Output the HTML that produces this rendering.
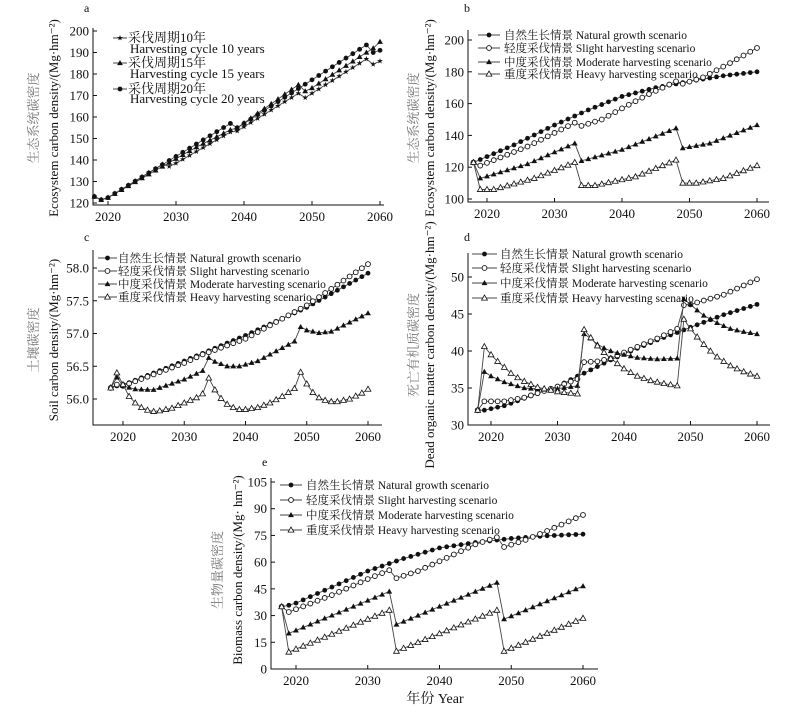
<!DOCTYPE html>
<html><head><meta charset="utf-8"><style>
body{margin:0;background:#fff;}
svg text{font-family:"Liberation Serif","Noto Serif CJK SC",serif;fill:#111;}
</style></head><body>
<svg id="s" width="800" height="706" xmlns="http://www.w3.org/2000/svg"></svg>
<script>
const S=document.getElementById('s');let out='';
function lin(pts){const r=[];for(let y=2018;y<=2060;y++){let i=0;while(i<pts.length-2&&pts[i+1][0]<y)i++;const[a,va]=pts[i],[b,vb]=pts[i+1];r.push(va+(vb-va)*(y-a)/(b-a));}return r;}
function marker(t,x,y){
 if(t=='fc')return `<circle cx="${x}" cy="${y}" r="2.4" fill="#111"/>`;
 if(t=='oc')return `<circle cx="${x}" cy="${y}" r="2.4" fill="#fff" stroke="#111" stroke-width="0.9"/>`;
 if(t=='ft')return `<polygon points="${x},${y-3} ${x-2.9},${y+2.1} ${x+2.9},${y+2.1}" fill="#111"/>`;
 if(t=='ot')return `<polygon points="${x},${y-3} ${x-2.9},${y+2.1} ${x+2.9},${y+2.1}" fill="#fff" stroke="#111" stroke-width="0.8"/>`;
 if(t=='st'){let p=[];for(let k=0;k<10;k++){const r=k%2?1.2:3,a=-Math.PI/2+k*Math.PI/5;p.push((x+r*Math.cos(a)).toFixed(1)+','+(y+r*Math.sin(a)).toFixed(1));}return `<polygon points="${p.join(' ')}" fill="#111"/>`;}
}
function panel(o){
 const {L,R,T,B,x20,x60,ymin,ymax,yv0,yv1,ticks,fmt,series,label,lx,ly,yl1,yl2,ylx1,ylx2,ylc}=o;
 const X=y=>x20+(y-2020)*(x60-x20)/40, Y=v=>yv0+(v-ymin)*(yv1-yv0)/(ymax-ymin);
 out+=`<path d="M${L},${T}V${B}H${R}" fill="none" stroke="#111" stroke-width="1"/>`;
 for(const t of ticks){const y=Y(t);out+=`<line x1="${L}" x2="${L+4}" y1="${y}" y2="${y}" stroke="#111"/><text x="${L-4}" y="${y+4.5}" font-size="13" text-anchor="end">${fmt(t)}</text>`;}
 for(let yr=2020;yr<=2060;yr+=10){const x=X(yr);out+=`<line x1="${x}" x2="${x}" y1="${B}" y2="${B-4}" stroke="#111"/><text x="${x}" y="${B+16}" font-size="13" text-anchor="middle">${yr}</text>`;}
 for(const s of series){const d=s.d.map((v,i)=>(i?'L':'M')+X(2018+i).toFixed(1)+','+Y(v).toFixed(1)).join('');
  out+=`<path d="${d}" fill="none" stroke="#444" stroke-width="0.9"/>`;
  s.d.forEach((v,i)=>out+=marker(s.m,X(2018+i),Y(v)));}
 out+=`<text x="${lx}" y="${ly}" font-size="12">${label}</text>`;
 out+=`<text transform="translate(${ylx1},${ylc}) rotate(-90)" font-size="13" text-anchor="middle" style="fill:#777">${yl1}</text>`;
 out+=`<text transform="translate(${ylx2},${ylc}) rotate(-90)" font-size="13" text-anchor="middle">${yl2}</text>`;
}
function legend(x1,x2,tx,rows,items,fs){items.forEach((it,i)=>{const y=rows[i];out+=`<line x1="${x1}" x2="${x2}" y1="${y}" y2="${y}" stroke="#444"/>`+marker(it[0],(x1+x2)/2,y)+`<text x="${tx}" y="${y+4}" font-size="${fs}">${it[1]}</text>`;});}
const LBL=['自然生长情景 Natural growth scenario','轻度采伐情景 Slight harvesting scenario','中度采伐情景 Moderate harvesting scenario','重度采伐情景 Heavy harvesting scenario'];
const MK=['fc','oc','ft','ot'];
panel({L:93,R:384,T:28,B:205,x20:108,x60:380,ymin:120,ymax:200,yv0:203,yv1:31,ticks:[120,130,140,150,160,170,180,190,200],fmt:t=>t,label:'a',lx:84,ly:12,
 yl1:'生态系统碳密度',yl2:'Ecosystem carbon density/(Mg·hm⁻²)',ylx1:38,ylx2:58,ylc:118,
 series:[
 {m:'st',d:lin([[2018,123],[2019,121.5],[2020,122.5],[2028,138],[2029,137],[2030,138.5],[2038,153],[2039,153.5],[2048,171],[2049,169],[2058,187],[2059,184.5],[2060,186]])},
 {m:'ft',d:lin([[2018,123],[2019,121.5],[2020,122.5],[2033,146],[2038,154],[2039,155],[2048,175],[2049,172],[2050,173.5],[2058,190],[2059,192],[2060,195]])},
 {m:'fc',d:lin([[2018,123],[2019,121.5],[2020,122.5],[2038,157],[2039,155],[2040,157],[2058,193.5],[2059,190],[2060,191]])}]});
legend(113,127,128,[38,63,89],[['st','采伐周期10年'],['ft','采伐周期15年'],['fc','采伐周期20年']],13);
out+=`<text x="130" y="53" font-size="13">Harvesting cycle 10 years</text><text x="130" y="78" font-size="13">Harvesting cycle 15 years</text><text x="130" y="103" font-size="13">Harvesting cycle 20 years</text>`;
panel({L:468,R:769,T:30,B:202,x20:487,x60:757,ymin:100,ymax:200,yv0:199,yv1:40,ticks:[100,120,140,160,180,200],fmt:t=>t,label:'b',lx:464,ly:12,
 yl1:'生态系统碳密度',yl2:'Ecosystem carbon density/(Mg·hm⁻²)',ylx1:418,ylx2:434,ylc:118,
 series:[
 {m:'fc',d:lin([[2018,123],[2024,134],[2030,146.5],[2035,156],[2040,164.5],[2045,170],[2050,174],[2055,177.5],[2060,180]])},
 {m:'oc',d:lin([[2018,123],[2019,121],[2026,133],[2033,148],[2034,146],[2037,150],[2040,157],[2044,166],[2048,174],[2049,172.5],[2052,176.5],[2056,185.5],[2060,195]])},
 {m:'ft',d:lin([[2018,123],[2019,113],[2026,122],[2033,135],[2034,124],[2040,131],[2048,144.5],[2049,132],[2053,135],[2060,146.5]])},
 {m:'ot',d:lin([[2018,123],[2019,106],[2021,106],[2027,113],[2033,123],[2034,108.5],[2036,108.5],[2042,114],[2048,124.5],[2049,110],[2051,110],[2055,113],[2060,121]])}]});
legend(478,500,504,[35,48,62,74],LBL.map((l,i)=>[MK[i],l]),11.5);
panel({L:93,R:382,T:250,B:425,x20:123,x60:368,ymin:56,ymax:58,yv0:399,yv1:268,ticks:[56,56.5,57,57.5,58],fmt:t=>t.toFixed(1),label:'c',lx:84,ly:241,
 yl1:'土壤碳密度',yl2:'Soil carbon density/(Mg·hm⁻²)',ylx1:38,ylx2:58,ylc:340,
 series:[
 {m:'fc',d:lin([[2018,56.17],[2019,56.2],[2021,56.25],[2030,56.58],[2040,56.97],[2050,57.4],[2060,57.92]])},
 {m:'oc',d:lin([[2018,56.17],[2019,56.22],[2020,56.2],[2030,56.55],[2033,56.68],[2040,56.92],[2050,57.43],[2060,58.06]])},
 {m:'ft',d:lin([[2018,56.17],[2019,56.33],[2020,56.2],[2022,56.15],[2025,56.14],[2030,56.3],[2033,56.43],[2034,56.63],[2035,56.57],[2037,56.5],[2039,56.5],[2042,56.58],[2048,56.88],[2049,57.1],[2050,57.05],[2052,57.01],[2054,57.03],[2060,57.31]])},
 {m:'ot',d:lin([[2018,56.17],[2019,56.4],[2020,56.22],[2021,56.04],[2022,55.94],[2023,55.87],[2024,55.83],[2025,55.81],[2026,55.82],[2028,55.86],[2030,55.94],[2032,56.02],[2033,56.08],[2034,56.32],[2035,56.14],[2036,56.01],[2037,55.92],[2038,55.87],[2039,55.84],[2040,55.84],[2042,55.87],[2044,55.94],[2046,56.04],[2048,56.16],[2049,56.41],[2050,56.23],[2051,56.1],[2052,56.02],[2053,55.98],[2054,55.96],[2055,55.96],[2057,56],[2059,56.09],[2060,56.15]])}]});
legend(98,117,118,[258,271,284,297],LBL.map((l,i)=>[MK[i],l]),11.5);
panel({L:468,R:770,T:253,B:425,x20:491,x60:757,ymin:30,ymax:50,yv0:425,yv1:277,ticks:[30,35,40,45,50],fmt:t=>t,label:'d',lx:464,ly:241,
 yl1:'死亡有机质碳密度',yl2:'Dead organic matter carbon density/(Mg·hm⁻²)',ylx1:418,ylx2:434,ylc:345,
 series:[
 {m:'fc',d:lin([[2018,32],[2019,32],[2020,32.2],[2022,32.6],[2025,33.6],[2028,34.6],[2030,35.2],[2033,36.6],[2034,37],[2038,38.8],[2040,39.6],[2045,41.5],[2048,42.5],[2050,43.2],[2055,44.9],[2060,46.3]])},
 {m:'oc',d:lin([[2018,32],[2019,33.2],[2022,33.2],[2025,33.7],[2028,34.6],[2030,35.2],[2033,36.2],[2034,38.5],[2036,38.6],[2038,39],[2040,39.8],[2045,41.7],[2048,43],[2049,46.2],[2050,46.3],[2055,47.6],[2060,49.7]])},
 {m:'ft',d:lin([[2018,32],[2019,37.2],[2020,36.6],[2022,35.8],[2025,35],[2028,34.8],[2030,34.9],[2033,35.3],[2034,42.3],[2035,41.7],[2036,40.9],[2037,40.4],[2038,40],[2040,39.5],[2042,39.1],[2045,38.9],[2048,39],[2049,47],[2050,46.3],[2051,45.5],[2052,44.8],[2054,43.8],[2056,43],[2058,42.6],[2060,42.3]])},
 {m:'ot',d:lin([[2018,32],[2019,40.6],[2020,39.5],[2021,38.6],[2022,37.8],[2023,37],[2024,36.4],[2025,35.9],[2026,35.5],[2027,35.1],[2028,34.9],[2030,34.5],[2033,34.2],[2034,42.9],[2035,41.8],[2036,40.7],[2037,39.8],[2038,39],[2039,38.3],[2040,37.6],[2042,36.6],[2044,36],[2046,35.6],[2048,35.3],[2049,44.3],[2050,43],[2051,41.9],[2052,40.9],[2053,40],[2054,39.2],[2055,38.6],[2056,38],[2058,37.2],[2060,36.6]])}]});
legend(472,497,500,[254,268,283,298],LBL.map((l,i)=>[MK[i],l]),11.5);
panel({L:271,R:598,T:478,B:669,x20:296,x60:583,ymin:0,ymax:105,yv0:669,yv1:482,ticks:[0,15,30,45,60,75,90,105],fmt:t=>t,label:'e',lx:262,ly:466,
 yl1:'生物量碳密度',yl2:'Biomass carbon density/(Mg· hm⁻²)',ylx1:222,ylx2:242,ylc:570,
 series:[
 {m:'fc',d:lin([[2018,35],[2019,35.8],[2020,37],[2025,46],[2030,55],[2035,62],[2040,68],[2045,71],[2050,73.3],[2055,74.8],[2060,75.7]])},
 {m:'oc',d:lin([[2018,35],[2019,32],[2025,41.5],[2030,50.5],[2033,55.5],[2034,51],[2037,55],[2040,60.5],[2045,70],[2048,74],[2049,68.5],[2052,72.5],[2055,77.5],[2060,86.5]])},
 {m:'ft',d:lin([[2018,35],[2019,20],[2033,43.5],[2034,25],[2048,48.5],[2049,28],[2060,46.5]])},
 {m:'ot',d:lin([[2018,35],[2019,9.5],[2033,33],[2034,10],[2048,33],[2049,10],[2060,28.5]])}]});
legend(280,302,306,[485,500,515,530],LBL.map((l,i)=>[MK[i],l]),11.5);
out+=`<text x="435" y="703" font-size="14" text-anchor="middle">年份 Year</text>`;
S.innerHTML=out;
</script>
</body></html>
